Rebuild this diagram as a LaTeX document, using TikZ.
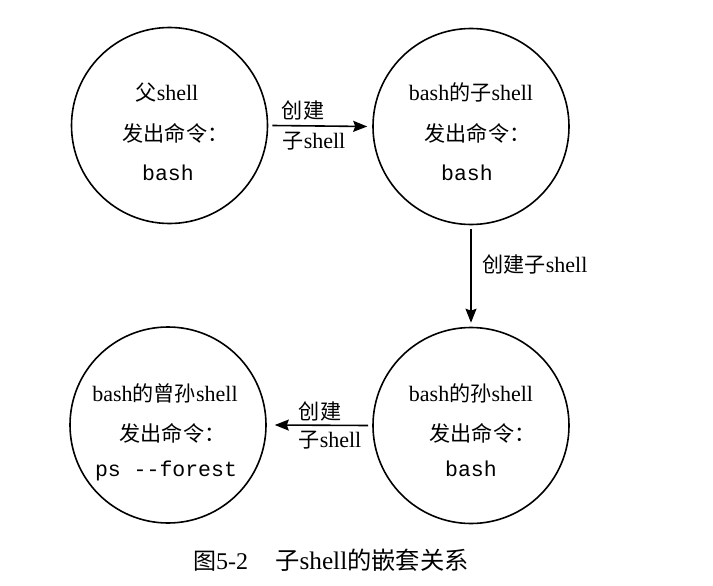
\documentclass[tikz,border=0pt]{standalone}
\usepackage{fontspec}
\setmainfont{Liberation Serif}
\setmonofont{Liberation Mono}
\newfontfamily\cjk{Noto Sans CJK SC}[Scale=0.96]
\usetikzlibrary{arrows.meta}
\newcommand{\zh}[1]{{\cjk #1}}
\begin{document}
\begin{tikzpicture}[x=1pt,y=-1pt,
  shellcircle/.style={draw, line width=1.6pt, circle, minimum size=196pt, inner sep=0pt},
  txt/.style={anchor=base, inner sep=0pt, font=\fontsize{22}{22}\selectfont},
  cmd/.style={anchor=base, inner sep=0pt, font=\fontsize{21.5}{21.5}\selectfont\ttfamily},
  lbl/.style={anchor=base, inner sep=0pt, font=\fontsize{22}{22}\selectfont},
  conn/.style={line width=1.6pt, -{Stealth[length=14pt,width=11pt,inset=2pt]}}]
\useasboundingbox (0,0) rectangle (713,586);
% circles
\node[shellcircle] (c1) at (169.5,125.5) {};
\node[shellcircle] (c2) at (471,126.5) {};
\node[shellcircle] (c3) at (471,425.5) {};
\node[shellcircle] (c4) at (168,425) {};
% texts circle 1
\node[txt] (t11) at (167,101) {\zh{父}shell};
\node[txt] (t12) at (175.5,141) {\zh{发出命令：}};
\node[cmd] (t13) at (168,180) {bash};
% circle 2
\node[txt] (t21) at (471,101) {bash\zh{的子}shell};
\node[txt] (t22) at (477.5,141) {\zh{发出命令：}};
\node[cmd] (t23) at (467,180) {bash};
% circle 3
\node[txt] (t31) at (471,401) {bash\zh{的孙}shell};
\node[txt] (t32) at (482.5,441) {\zh{发出命令：}};
\node[cmd] (t33) at (471,476) {bash};
% circle 4
\node[txt] (t41) at (165,401) {bash\zh{的曾孙}shell};
\node[txt] (t42) at (172.5,441) {\zh{发出命令：}};
\node[cmd] (t43) at (166,476) {ps --forest};
% connectors
\draw[conn] ([xshift=4pt]c1.east) -- ([xshift=-5pt]c2.west);
\draw[conn] ([yshift=-4pt]c2.south) -- ([yshift=4pt]c3.north);
\draw[conn] ([xshift=-4pt]c3.west) -- ([xshift=8pt]c4.east);
% connector labels
\node[lbl] (l1a) at (303,118) {\zh{创建}};
\node[lbl] (l1b) at (314,148) {\zh{子}shell};
\node[lbl] (l2) at (535,272) {\zh{创建子}shell};
\node[lbl] (l3a) at (320,419) {\zh{创建}};
\node[lbl] (l3b) at (330,447) {\zh{子}shell};
% caption
\node[anchor=base west, inner sep=0pt, font=\fontsize{24}{24}\selectfont] (cap) at (193,569) {\zh{图}5-2\hspace{27pt}{\fontsize{25.3}{25.3}\selectfont\zh{子}shell\zh{的嵌套关系}}};
\end{tikzpicture}
\end{document}
